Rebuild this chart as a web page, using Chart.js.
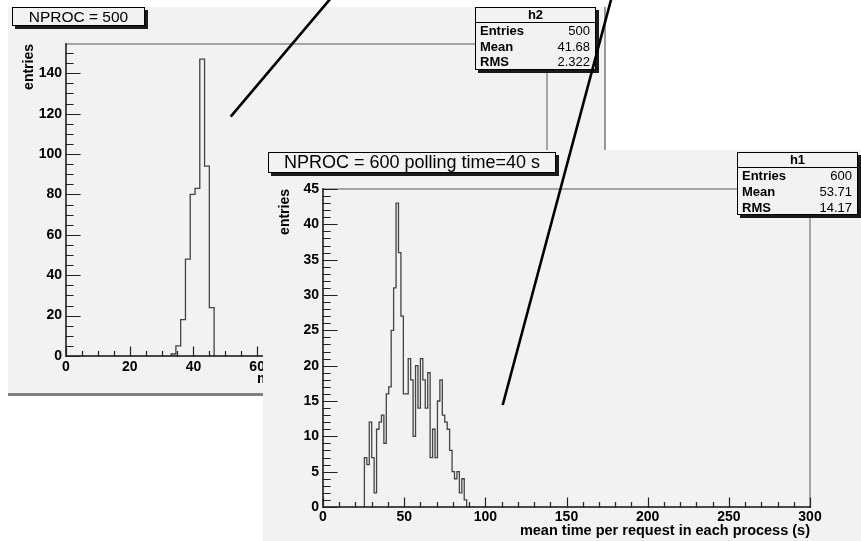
<!DOCTYPE html>
<html><head><meta charset="utf-8">
<script src="https://cdn.jsdelivr.net/npm/chart.js@4"></script>
<style>
html,body{margin:0;padding:0;background:#fff;}
body{width:861px;height:541px;position:relative;overflow:hidden;font-family:"Liberation Sans",Arial,Helvetica,sans-serif;}
.panel{position:absolute;background:#f2f2f2;}
#p1{left:8px;top:7px;width:596px;height:386px;border-right:2px solid #9a9a9a;border-bottom:3px solid #808080;z-index:1;}
#p2{left:263px;top:150px;width:598px;height:391px;z-index:2;}
.panel canvas{position:absolute;left:0;top:0;}
.tbox{position:absolute;background:#f2f2f2;border:1px solid #000;box-shadow:3px 3px 0 #1a1a1a;text-align:center;color:#000;box-sizing:border-box;white-space:nowrap;z-index:3;}
.sbox{position:absolute;background:#f2f2f2;border:1px solid #000;box-shadow:3px 3px 0 #1a1a1a;box-sizing:border-box;font-size:13px;color:#000;z-index:3;}
.sbox .hd{position:absolute;left:0;right:0;top:0;height:14px;border-bottom:1px solid #000;text-align:center;font-weight:bold;line-height:14px;}
.sbox .lb{position:absolute;left:4px;font-weight:bold;line-height:14px;}
.sbox .vl{position:absolute;right:5px;line-height:14px;}
#ov{position:absolute;left:0;top:0;z-index:10;pointer-events:none;}
</style>
</head>
<body>
<div class="panel" id="p1">
  <canvas id="c1" width="596" height="386"></canvas>
  <div class="tbox" style="left:4px;top:0px;width:133px;height:19px;font-size:15.5px;line-height:17px;">NPROC = 500</div>
  <div class="sbox" style="left:467px;top:0px;width:121px;height:63px;">
    <div class="hd">h2</div>
    <div class="lb" style="top:16px">Entries</div><div class="vl" style="top:16px">500</div>
    <div class="lb" style="top:32px">Mean</div><div class="vl" style="top:32px">41.68</div>
    <div class="lb" style="top:47px">RMS</div><div class="vl" style="top:47px">2.322</div>
  </div>
</div>
<div class="panel" id="p2">
  <canvas id="c2" width="598" height="391"></canvas>
  <div class="tbox" style="left:5px;top:2px;width:288px;height:21px;font-size:18px;line-height:19px;">NPROC = 600 polling time=40 s</div>
  <div class="sbox" style="left:474px;top:2px;width:121px;height:63px;">
    <div class="hd">h1</div>
    <div class="lb" style="top:16px">Entries</div><div class="vl" style="top:16px">600</div>
    <div class="lb" style="top:32px">Mean</div><div class="vl" style="top:32px">53.71</div>
    <div class="lb" style="top:48px">RMS</div><div class="vl" style="top:48px">14.17</div>
  </div>
</div>
<canvas id="ov" width="861" height="541"></canvas>
<script>
// ---- data: histogram h2 (NPROC = 500) ----
const H2_EDGES  = [33, 34.5, 36, 37.5, 39, 40.5, 42, 43.5, 45, 46.5];
const H2_COUNTS = [1, 5, 18, 48, 80, 83, 147, 94, 24];
// ---- data: histogram h1 (NPROC = 600) ----
const H1_EDGES  = [25.5, 27, 28.5, 30, 31.5, 33, 34.5, 36, 37.5, 39, 40.5, 42, 43.5, 45, 46.5, 48, 49.5, 51, 52.5, 54, 55.5,
                   57, 58.5, 60, 61.5, 63, 64.5, 66, 67.5, 69, 70.5, 72, 73.5, 75, 76.5, 78, 79.5, 81, 82.5, 84, 85.5, 87, 88.5];
const H1_COUNTS = [7, 6, 12, 7, 2, 11, 12, 13, 9, 16, 17, 25, 31, 43, 36, 27, 16, 16, 21, 18, 10,
                   20, 14, 21, 18, 14, 19, 7, 11, 7, 15, 18, 13, 12, 11, 8, 5, 4, 5, 2, 4, 1];
// ---- tick labels ----
const P1_X_TICKS = [0, 20, 40, 60, 80, 100, 120, 140];
const P1_Y_TICKS = [0, 20, 40, 60, 80, 100, 120, 140];
const P2_X_TICKS = [0, 50, 100, 150, 200, 250, 300];
const P2_Y_TICKS = [0, 5, 10, 15, 20, 25, 30, 35, 40, 45];
const X_TITLE = 'mean time per request in each process (s)';
const Y_TITLE = 'entries';
// decorative pointer lines (page pixels)
const POINTER_LINES = [[[331, -2], [230.7, 116.7]], [[611.5, -2], [502.7, 405]]];

Chart.defaults.font.family = '"Liberation Sans", Arial, Helvetica, sans-serif';

function histPoints(edges, counts) {
  const pts = [{x: edges[0], y: 0}];
  counts.forEach((c, i) => pts.push({x: edges[i], y: c}));
  pts.push({x: edges[edges.length - 1], y: 0});
  return pts;
}

const framePlugin = {
  id: 'rootFrame',
  afterDraw(chart, args, o) {
    const {ctx, chartArea: a, scales: {x, y}} = chart;
    ctx.save();
    ctx.lineCap = 'square';
    ctx.strokeStyle = '#8c8c8c'; ctx.lineWidth = 1.5;
    ctx.beginPath(); ctx.moveTo(a.left, a.top); ctx.lineTo(a.right, a.top); ctx.lineTo(a.right, a.bottom); ctx.stroke();
    ctx.strokeStyle = '#111'; ctx.lineWidth = 1.5;
    ctx.beginPath(); ctx.moveTo(a.left, a.top); ctx.lineTo(a.left, a.bottom); ctx.lineTo(a.right, a.bottom); ctx.stroke();
    ctx.lineWidth = 1.2; ctx.strokeStyle = '#222';
    ctx.beginPath();
    for (let v = x.min; v <= x.max + 1e-9; v += o.xMinor) {
      const px = Math.round(x.getPixelForValue(v)) + 0.5;
      const major = Math.abs(v / o.xMajor - Math.round(v / o.xMajor)) < 1e-6;
      const len = major ? 9 : 4.5;
      ctx.moveTo(px, a.bottom); ctx.lineTo(px, a.bottom - len);
    }
    for (let v = y.min; v <= y.max + 1e-9; v += o.yMinor) {
      const py = Math.round(y.getPixelForValue(v)) + 0.5;
      const major = Math.abs(v / o.yMajor - Math.round(v / o.yMajor)) < 1e-6;
      const len = major ? 14 : 7;
      ctx.moveTo(a.left, py); ctx.lineTo(a.left + len, py);
    }
    ctx.stroke();
    ctx.restore();
  }
};

function makeChart(id, cfg) {
  const tickFont = {size: 14, weight: 'bold'};
  const titleFont = {size: 14.5, weight: 'bold'};
  return new Chart(document.getElementById(id), {
    type: 'line',
    data: {datasets: [{data: histPoints(cfg.edges, cfg.counts), borderColor: '#444', borderWidth: 1.3,
      pointRadius: 0, stepped: 'before', fill: false}]},
    options: {
      responsive: false, animation: false, devicePixelRatio: 1,
      layout: {padding: {left: 0, top: cfg.padTop, right: cfg.padRight, bottom: 0}},
      plugins: {legend: {display: false}, tooltip: {enabled: false},
        rootFrame: {xMinor: cfg.xMinor, xMajor: cfg.xMajor, yMinor: cfg.yMinor, yMajor: cfg.yMajor}},
      scales: {
        x: {type: 'linear', min: cfg.xMin, max: cfg.xMax,
          afterFit(s) { s.height = cfg.xAxisH; },
          afterBuildTicks(s) { s.ticks = cfg.xTicks.map(v => ({value: v})); },
          grid: {display: false, drawTicks: false, tickLength: 0}, border: {display: false},
          ticks: {autoSkip: false, maxRotation: 0, padding: cfg.xTickPad, font: tickFont, color: '#000', callback: v => String(v)},
          title: {display: true, text: X_TITLE, align: 'end', font: titleFont, color: '#000', padding: {top: 0, bottom: cfg.xTitlePad}}},
        y: {type: 'linear', min: 0, max: cfg.yMax,
          afterFit(s) { s.width = cfg.yAxisW; },
          afterBuildTicks(s) { s.ticks = cfg.yTicks.map(v => ({value: v})); },
          grid: {display: false, drawTicks: false, tickLength: 0}, border: {display: false},
          ticks: {autoSkip: false, padding: 4, font: tickFont, color: '#000', callback: v => String(v)},
          title: {display: true, text: Y_TITLE, align: 'end', font: tickFont, color: '#000', padding: {top: cfg.yTitlePad, bottom: 0}}}
      }
    },
    plugins: [framePlugin]
  });
}

makeChart('c1', {edges: H2_EDGES, counts: H2_COUNTS, xMin: 0, xMax: 151, yMax: 154.5,
  xTicks: P1_X_TICKS, yTicks: P1_Y_TICKS, xMinor: 5, xMajor: 20, yMinor: 5, yMajor: 20,
  padTop: 37, padRight: 57, xAxisH: 37, yAxisW: 58, xTickPad: 3, xTitlePad: 5, yTitlePad: 12.6});

makeChart('c2', {edges: H1_EDGES, counts: H1_COUNTS, xMin: 0, xMax: 300, yMax: 45,
  xTicks: P2_X_TICKS, yTicks: P2_Y_TICKS, xMinor: 10, xMajor: 50, yMinor: 1, yMajor: 5,
  padTop: 39, padRight: 51, xAxisH: 34, yAxisW: 60, xTickPad: 2, xTitlePad: 1.5, yTitlePad: 13.6});

const ov = document.getElementById('ov').getContext('2d');
ov.strokeStyle = '#000'; ov.lineWidth = 2.6;
POINTER_LINES.forEach(([p, q]) => { ov.beginPath(); ov.moveTo(p[0], p[1]); ov.lineTo(q[0], q[1]); ov.stroke(); });
</script>
</body></html>
